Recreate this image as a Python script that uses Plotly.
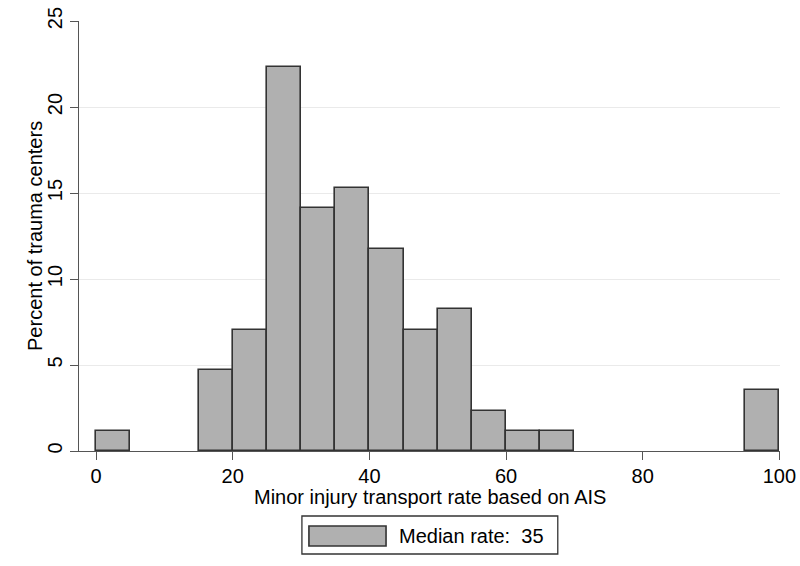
import plotly.graph_objects as go

# Histogram bins (width 5) with non-zero heights
bin_starts = [0, 15, 20, 25, 30, 35, 40, 45, 50, 55, 60, 65, 95]
percent = [1.18, 4.71, 7.06, 22.35, 14.12, 15.29, 11.76, 7.06, 8.24, 2.35, 1.18, 1.18, 3.53]
bin_width = 5
x_ticks = [0, 20, 40, 60, 80, 100]
y_ticks = [0, 5, 10, 15, 20, 25]
legend_label = "Median rate:  35"
x_title = "Minor injury transport rate based on AIS"
y_title = "Percent of trauma centers"

FONT = "Liberation Sans, Arial, sans-serif"
FILL = "#b0b0b0"
EDGE = "#333333"
FS = 20

fig = go.Figure()
fig.add_trace(go.Bar(
    x=[s + bin_width / 2 for s in bin_starts],
    y=percent,
    width=bin_width,
    marker=dict(color=FILL, line=dict(color=EDGE, width=1.6)),
    showlegend=False,
    hoverinfo="x+y",
))

fig.update_layout(
    width=800, height=566,
    margin=dict(l=79, r=20, t=21, b=115),
    paper_bgcolor="white", plot_bgcolor="white",
    font=dict(family=FONT, size=FS, color="black"),
    bargap=0,
    xaxis=dict(
        range=[-2.5, 100.1], tickvals=x_ticks, ticks="outside", ticklen=8,
        tickcolor="#555555", tickwidth=1.3,
        showline=True, linecolor="#555555", linewidth=1.3,
        showgrid=False, zeroline=False, automargin=False,
        tickfont=dict(size=FS), ticklabelstandoff=-1,
    ),
    yaxis=dict(
        range=[0, 25], tickvals=y_ticks, ticks="outside", ticklen=8,
        tickcolor="#555555", tickwidth=1.3,
        showline=True, linecolor="#555555", linewidth=1.3,
        showgrid=True, gridcolor="#eaeaea", gridwidth=1, zeroline=False,
        tickangle=-90, automargin=False,
        tickfont=dict(size=FS),
    ),
)

# Axis titles
fig.add_annotation(xref="paper", yref="paper", x=0.5, y=-0.107,
                   text=x_title, showarrow=False, xanchor="center", yanchor="middle",
                   font=dict(family=FONT, size=FS, color="black"))
fig.add_annotation(xref="paper", yref="paper", x=-0.0628, y=0.5,
                   text=y_title, showarrow=False, xanchor="center", yanchor="middle",
                   textangle=-90,
                   font=dict(family=FONT, size=FS, color="black"))

# Manual legend box (Stata style)
fig.add_shape(type="rect", xref="paper", yref="paper",
              x0=0.318, x1=0.683, y0=-0.2395, y1=-0.1512,
              line=dict(color="#333333", width=1.3), fillcolor="white")
fig.add_shape(type="rect", xref="paper", yref="paper",
              x0=0.328, x1=0.438, y0=-0.2209, y1=-0.1744,
              line=dict(color=EDGE, width=1.6), fillcolor=FILL)
fig.add_annotation(xref="paper", yref="paper", x=0.4536, y=-0.1977,
                   text=legend_label, showarrow=False, xanchor="left", yanchor="middle",
                   font=dict(family=FONT, size=FS, color="black"))

fig.write_html("out.html",
               config={"displayModeBar": False},
               post_script="document.body.style.margin='0';document.body.style.overflow='hidden';")
